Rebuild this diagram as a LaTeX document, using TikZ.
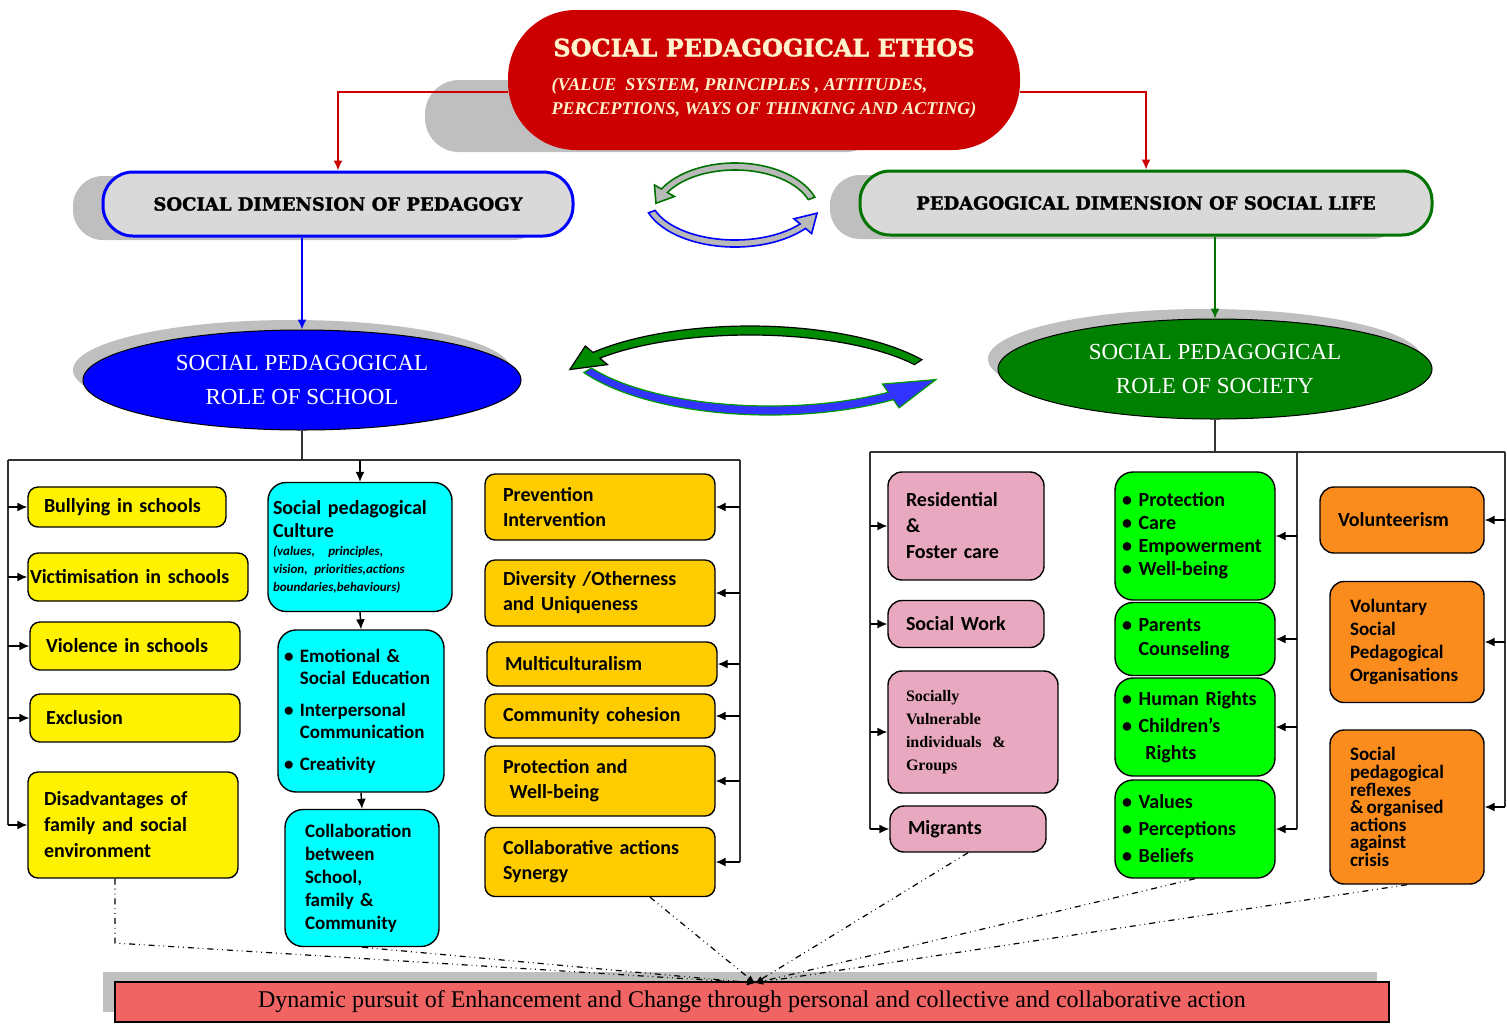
\documentclass[tikz,border=0pt]{standalone}
\usepackage{fontspec}
\setmainfont{Carlito}
\newfontfamily\headfont{DejaVu Serif}[BoldFeatures={FakeBold=1.6}]
\newfontfamily\rolefont{Liberation Serif}
\usetikzlibrary{arrows.meta,calc,positioning,shadows,shapes.geometric}

\definecolor{ethosred}{HTML}{CC0000}
\definecolor{cream}{HTML}{FFF2CC}
\definecolor{dimgrey}{HTML}{D9D9D9}
\definecolor{shadegrey}{HTML}{BFBFBF}
\definecolor{roleblue}{HTML}{0000FF}
\definecolor{rolegreen}{HTML}{008000}
\definecolor{boxcyan}{HTML}{00FFFF}
\definecolor{boxgold}{HTML}{FFCC00}
\definecolor{boxpink}{HTML}{E8A8C0}
\definecolor{boxorange}{HTML}{FA8C1E}
\definecolor{barred}{HTML}{F06464}

% curved arrow: centre, x radius, y radius, tail angle, head angle, band, flare, head angle length, style
\newcommand{\turnarrow}[9]{%
  \pgfmathsetmacro\innerxr{#2-#6}%
  \pgfmathsetmacro\inneryr{#3-#6}%
  \path[#9]
    ($(#1)+({(#2)*cos(#4)},{(#3)*sin(#4)})$)
    arc[start angle=#4,end angle=#5,x radius=#2,y radius=#3]
    -- ($(#1)+({(#2+#7)*cos(#5)},{(#3+#7)*sin(#5)})$)
    -- ($(#1)+({(#2-#6/2)*cos(#5+#8)},{(#3-#6/2)*sin(#5+#8)})$)
    -- ($(#1)+({(#2-#6-#7)*cos(#5)},{(#3-#6-#7)*sin(#5)})$)
    -- ($(#1)+({(#2-#6)*cos(#5)},{(#3-#6)*sin(#5)})$)
    arc[start angle=#5,end angle=#4,x radius=\innerxr,y radius=\inneryr]
    -- cycle;}

\begin{document}
\begin{tikzpicture}[x=0.5pt,y=0.5pt,>={Latex[length=5pt,width=4.5pt]},
    ethos/.style={fill=ethosred,text=cream,rounded corners=34pt,minimum width=256pt,minimum height=70pt,align=center},
    dimension/.style={fill=dimgrey,rounded corners=15pt,line width=1.5pt,minimum height=32pt,font=\headfont\bfseries\fontsize{9}{11}\selectfont,drop shadow={shadow xshift=-15pt,shadow yshift=-2pt,fill=shadegrey,opacity=1}},
    role/.style={ellipse,draw,line width=0.5pt,minimum height=50pt,text=white,align=center,font=\rolefont\fontsize{11.5}{17}\selectfont,drop shadow={shadow xshift=-5pt,shadow yshift=5pt,fill=shadegrey,opacity=1}},
    box/.style={draw,rounded corners=5pt,line width=0.7pt,align=left,inner xsep=8pt,inner ysep=2pt,font=\bfseries\fontsize{10}{12.5}\selectfont,execute at begin node={\hyphenpenalty=10000\exhyphenpenalty=10000}},
    schoolbox/.style={box,fill=yellow},
    culturebox/.style={box,fill=boxcyan,rounded corners=9pt},
    valuebox/.style={box,fill=boxgold,inner xsep=9pt,text width=97pt},
    servicebox/.style={box,fill=boxpink,rounded corners=7pt,inner xsep=9pt},
    rightsbox/.style={box,fill=green,rounded corners=9pt,inner xsep=3.5pt,text width=73pt},
    civicbox/.style={box,fill=boxorange,rounded corners=7pt},
    railline/.style={line width=0.8pt,black!80},
    linkarrow/.style={->,line width=0.7pt},
    flowline/.style={dash dot dot,line width=0.6pt,-{Latex[length=4pt,width=3pt]}}]

	\useasboundingbox (0,0) rectangle (1507,-1024);

	% ethos and the two dimensions
	\fill[shadegrey,rounded corners=17pt] (425,-80) rectangle (880,-152);
	\node (ethos) [ethos] at (764,-80) {{\headfont\bfseries\fontsize{12}{14}\selectfont SOCIAL PEDAGOGICAL ETHOS}\\[5pt]
		{\rolefont\bfseries\itshape\fontsize{9}{12}\selectfont\begin{tabular}[t]{@{}l@{}}(VALUE\ \ SYSTEM, PRINCIPLES , ATTITUDES,\\PERCEPTIONS, WAYS OF THINKING AND ACTING)\end{tabular}}};

	\node (social dim) [dimension,draw=blue,minimum width=235pt] at (338,-204) {SOCIAL DIMENSION OF PEDAGOGY};
	\node (life dim) [dimension,draw=green!45!black,minimum width=286pt] at (1146,-203) {PEDAGOGICAL DIMENSION OF SOCIAL LIFE};

	\node (school role) [role,fill=roleblue,minimum width=219pt] at (302,-380) {SOCIAL PEDAGOGICAL\\ROLE OF SCHOOL};
	\node (society role) [role,fill=rolegreen,minimum width=217pt] at (1215,-369) {SOCIAL PEDAGOGICAL\\ROLE OF SOCIETY};

	\draw[->,ethosred,line width=0.8pt] ([yshift=-6pt]ethos.west) -| (social dim.north);
	\draw[->,ethosred,line width=0.8pt] ([yshift=-6pt]ethos.east) -| (life dim.north);
	\draw[->,blue,line width=0.8pt] (school role.north |- social dim.south) -- (school role.north);
	\draw[->,green!45!black,line width=0.8pt] (society role.north |- life dim.south) -- (society role.north);

	% turning arrows
	\turnarrow{735,-215}{85}{52}{20}{150}{7}{8}{16}{fill=gray!55,draw=green!45!black,line width=0.8pt}
	\turnarrow{735,-195}{92}{52}{200}{320}{7}{8}{18}{fill=gray!55,draw=blue,line width=0.8pt}
	\turnarrow{750,-400}{205}{74}{33}{140}{9}{10}{14}{fill=green!55!black,draw=black,line width=0.6pt}
	\turnarrow{770,-330}{215}{85}{210}{305}{9}{10}{17}{fill=roleblue!80,draw=green!60!black,line width=0.6pt}

	% school side
	\node (bullying) [schoolbox,text width=83pt,minimum height=20pt] at (127,-507) {Bullying in schools};
	\node (victim) [schoolbox,inner xsep=1pt,text width=108pt,minimum height=24pt] at (138,-577) {Victimisation in schools};
	\node (violence) [schoolbox,text width=89pt,minimum height=24pt] at (135,-646) {Violence in schools};
	\node (exclusion) [schoolbox,text width=89pt,minimum height=24pt] at (135,-718) {Exclusion};
	\node (disadvantage) [schoolbox,text width=89pt,minimum height=53pt,font=\bfseries\fontsize{10}{13}\selectfont] at (133,-825) {Disadvantages of\\family and social\\environment};

	\node (culture) [culturebox,inner xsep=2.5pt,text width=87pt,minimum height=64.5pt,font=\bfseries\fontsize{10}{11.5}\selectfont] at (360,-547) {Social pedagogical\\Culture\par
		{\itshape\fontsize{6.5}{9}\selectfont (values,\ \ principles,\\vision, priorities,actions\\boundaries,behaviours)\par}};
	\node (skills) [culturebox,inner xsep=3pt,text width=77pt,minimum height=81pt,font=\bfseries\fontsize{9.5}{11}\selectfont] at (361,-711) {\textbullet\ Emotional \&\\\phantom{\textbullet\ }Social Education\\[5pt]\textbullet\ Interpersonal\\\phantom{\textbullet\ }Communication\\[5pt]\textbullet\ Creativity};
	\node (collab) [culturebox,inner xsep=10pt,text width=57pt,minimum height=68.5pt,font=\bfseries\fontsize{9.5}{11.5}\selectfont] at (362,-878) {Collaboration\\between\\School,\\family \&\\Community};

	\node (prevention) [valuebox,minimum height=33pt] at (600,-507) {Prevention\\Intervention};
	\node (diversity) [valuebox,minimum height=33pt] at (600,-593) {Diversity /Otherness\\and Uniqueness};
	\node (multicultural) [valuebox,minimum height=22pt] at (602,-664) {Multiculturalism};
	\node (cohesion) [valuebox,minimum height=22pt] at (600,-716) {Community cohesion};
	\node (wellbeing) [valuebox,minimum height=35pt] at (600,-781) {Protection and\\\ Well-being};
	\node (synergy) [valuebox,minimum height=34.5pt] at (600,-862) {Collaborative actions\\Synergy};

	\coordinate (left rail) at (8,-460);
	\coordinate (right rail) at (740,-460);
	\draw[railline] (school role.south) -- (school role.south |- left rail);
	\draw[railline] (left rail) -- (right rail);
	\draw[railline] (left rail) -- (left rail |- disadvantage.west);
	\draw[railline] (right rail) -- (right rail |- synergy.east);

	\draw[linkarrow] (left rail |- bullying.west) -- (bullying.west);
	\draw[linkarrow] (left rail |- victim.west) -- (victim.west);
	\draw[linkarrow] (left rail |- violence.west) -- (violence.west);
	\draw[linkarrow] (left rail |- exclusion.west) -- (exclusion.west);
	\draw[linkarrow] (left rail |- disadvantage.west) -- (disadvantage.west);

	\draw[linkarrow] (culture.north |- left rail) -- (culture.north);
	\draw[linkarrow] (culture.south) -- (skills.north);
	\draw[linkarrow] (skills.south) -- (collab.north);

	\draw[linkarrow] (right rail |- prevention.east) -- (prevention.east);
	\draw[linkarrow] (right rail |- diversity.east) -- (diversity.east);
	\draw[linkarrow] (right rail |- multicultural.east) -- (multicultural.east);
	\draw[linkarrow] (right rail |- cohesion.east) -- (cohesion.east);
	\draw[linkarrow] (right rail |- wellbeing.east) -- (wellbeing.east);
	\draw[linkarrow] (right rail |- synergy.east) -- (synergy.east);

	% society side
	\node (residential) [servicebox,text width=60pt,minimum height=54pt,font=\bfseries\fontsize{10}{13}\selectfont] at (966,-526) {Residential\\\&\\Foster care};
	\node (social work) [servicebox,text width=60pt,minimum height=23.5pt] at (966,-624) {Social Work};
	\node (vulnerable) [servicebox,text width=67pt,minimum height=61pt,font=\rolefont\bfseries\fontsize{8}{11.5}\selectfont] at (973,-732) {Socially\\Vulnerable\\individuals\ \ \&\\Groups};
	\node (migrants) [servicebox,text width=60pt,minimum height=23pt] at (968,-829) {Migrants};

	\node (care) [rightsbox,minimum height=64pt,font=\bfseries\fontsize{10}{11.5}\selectfont] at (1195,-536) {\textbullet\ Protection\\\textbullet\ Care\\\textbullet\ Empowerment\\\textbullet\ Well-being};
	\node (parents) [rightsbox,minimum height=36.5pt,font=\bfseries\fontsize{10}{12}\selectfont] at (1195,-639) {\textbullet\ Parents\\\phantom{\textbullet\ }Counseling};
	\node (rights) [rightsbox,minimum height=49pt,font=\bfseries\fontsize{10}{13.5}\selectfont] at (1195,-727) {\textbullet\ Human Rights\\\textbullet\ Children's\\\phantom{\textbullet\ }\ Rights};
	\node (values) [rightsbox,minimum height=49pt,font=\bfseries\fontsize{10}{13.5}\selectfont] at (1195,-829) {\textbullet\ Values\\\textbullet\ Perceptions\\\textbullet\ Beliefs};

	\node (volunteer) [civicbox,inner xsep=9pt,text width=64pt,minimum height=33pt] at (1402,-520) {Volunteerism};
	\node (voluntary) [civicbox,inner xsep=10pt,text width=57pt,minimum height=60.5pt,font=\bfseries\fontsize{9.5}{11.5}\selectfont] at (1407,-642) {Voluntary\\Social\\Pedagogical\\Organisations};
	\node (reflexes) [civicbox,inner xsep=10pt,text width=57pt,minimum height=77pt,font=\bfseries\fontsize{9.5}{8.8}\selectfont] at (1407,-807) {Social\\pedagogical\\reflexes\\\&\,organised\\actions\\against\\crisis};

	\coordinate (outer rail) at (870,-452);
	\coordinate (mid rail) at (1297,-452);
	\coordinate (far rail) at (1505,-452);
	\draw[railline] (society role.south) -- (society role.south |- outer rail);
	\draw[railline] (outer rail) -- (far rail);
	\draw[railline] (outer rail) -- (outer rail |- migrants.west);
	\draw[railline] (mid rail) -- (mid rail |- values.east);
	\draw[railline] (far rail) -- (far rail |- reflexes.east);

	\draw[linkarrow] (outer rail |- residential.west) -- (residential.west);
	\draw[linkarrow] (outer rail |- social work.west) -- (social work.west);
	\draw[linkarrow] (outer rail |- vulnerable.west) -- (vulnerable.west);
	\draw[linkarrow] (outer rail |- migrants.west) -- (migrants.west);

	\draw[linkarrow] (mid rail |- care.east) -- (care.east);
	\draw[linkarrow] (mid rail |- parents.east) -- (parents.east);
	\draw[linkarrow] (mid rail |- rights.east) -- (rights.east);
	\draw[linkarrow] (mid rail |- values.east) -- (values.east);

	\draw[linkarrow] (far rail |- volunteer.east) -- (volunteer.east);
	\draw[linkarrow] (far rail |- voluntary.east) -- (voluntary.east);
	\draw[linkarrow] (far rail |- reflexes.east) -- (reflexes.east);

	% pursuit bar
	\node (pursuit) [fill=barred,draw,line width=0.7pt,minimum width=637pt,minimum height=20pt,font=\rolefont\fontsize{12}{14}\selectfont,drop shadow={shadow xshift=-6pt,shadow yshift=5pt,fill=shadegrey,opacity=1}] at (752,-1002) {Dynamic pursuit of Enhancement and Change through personal and collective and collaborative action};

	\coordinate (meet) at (755,-983);
	\coordinate (bend) at (115,-943);
	\draw[flowline] (disadvantage.south -| bend) -- (bend) -- (meet);
	\draw[flowline] (collab.south) -- (meet);
	\draw[flowline] ([xshift=25pt]synergy.south) -- (meet);
	\draw[flowline] (migrants.south) -- (meet);
	\draw[flowline] (values.south) -- (meet);
	\draw[flowline] (reflexes.south) -- (meet);

\end{tikzpicture}
\end{document}
